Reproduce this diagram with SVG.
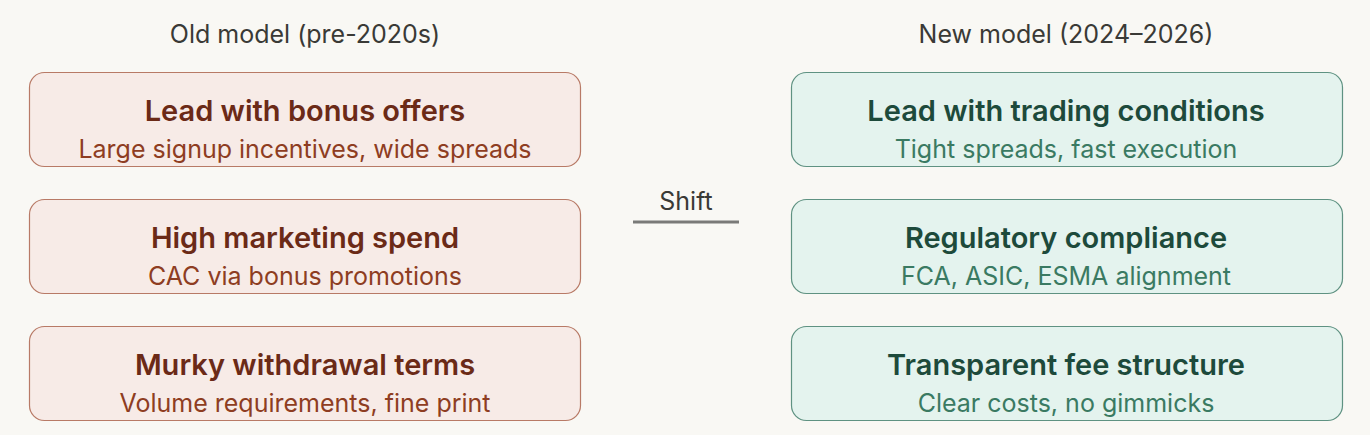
<svg xmlns="http://www.w3.org/2000/svg" width="1370" height="435" viewBox="0 0 1370 435">
<style>
.hdr{font-family:Inter,"Noto Sans",sans-serif;font-size:25px;fill:#3a3a36;text-anchor:middle}
.t{font-family:Inter,"Noto Sans",sans-serif;font-size:29px;font-weight:600;text-anchor:middle}
.s{font-family:Inter,"Noto Sans",sans-serif;font-size:25px;text-anchor:middle}
.old rect{fill:#f7ebe7;stroke:#b87a66;stroke-width:1.2}
.old .t{fill:#6b2a17}
.old .s{fill:#8e3d22}
.new rect{fill:#e4f3ee;stroke:#5f9282;stroke-width:1.2}
.new .t{fill:#1d4a3b}
.new .s{fill:#3a7a62}
</style>
<rect width="1370" height="435" fill="#f9f8f4"/>
<text class="hdr" x="305" y="43">Old model (pre-2020s)</text>
<text class="hdr" x="1066" y="43">New model (2024–2026)</text>
<g id="old1" class="old"><rect x="29.5" y="72.5" width="551" height="94" rx="15"/><text class="t" x="305" y="121">Lead with bonus offers</text><text class="s" x="305" y="158">Large signup incentives, wide spreads</text></g>
<g id="old2" class="old"><rect x="29.5" y="199.5" width="551" height="94" rx="15"/><text class="t" x="305" y="248">High marketing spend</text><text class="s" x="305" y="285">CAC via bonus promotions</text></g>
<g id="old3" class="old"><rect x="29.5" y="326.5" width="551" height="94" rx="15"/><text class="t" x="305" y="375">Murky withdrawal terms</text><text class="s" x="305" y="412">Volume requirements, fine print</text></g>
<g id="new1" class="new"><rect x="791.5" y="72.5" width="551" height="94" rx="15"/><text class="t" x="1066" y="121">Lead with trading conditions</text><text class="s" x="1066" y="158">Tight spreads, fast execution</text></g>
<g id="new2" class="new"><rect x="791.5" y="199.5" width="551" height="94" rx="15"/><text class="t" x="1066" y="248">Regulatory compliance</text><text class="s" x="1066" y="285">FCA, ASIC, ESMA alignment</text></g>
<g id="new3" class="new"><rect x="791.5" y="326.5" width="551" height="94" rx="15"/><text class="t" x="1066" y="375">Transparent fee structure</text><text class="s" x="1066" y="412">Clear costs, no gimmicks</text></g>
<g id="connectors">
<text class="hdr" x="686" y="210">Shift</text>
<line x1="633" y1="222" x2="739" y2="222" stroke="#7a7a78" stroke-width="3"/>
</g>
</svg>
